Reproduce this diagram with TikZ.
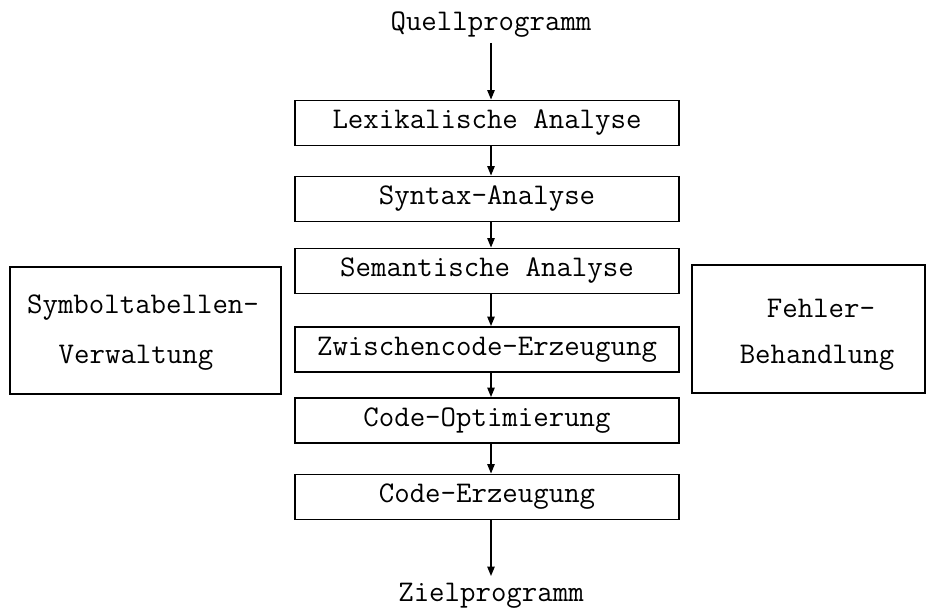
\documentclass[tikz,border=0pt]{standalone}
\usepackage{fontspec}
\usetikzlibrary{arrows.meta}
\begin{document}
\begin{tikzpicture}[x=0.75pt,y=-0.75pt,
  phase/.style={draw, line width=1.2pt, minimum width=288pt, minimum height=34pt, inner sep=0pt, font=\ttfamily\fontsize{22.5}{26}\selectfont},
  side/.style={draw, line width=1.2pt, inner sep=0pt},
  lbl/.style={font=\ttfamily\fontsize{22.5}{26}\selectfont, inner sep=0pt},
  arr/.style={line width=1pt, -{Triangle[length=7pt,width=5.5pt]}}]
\useasboundingbox (0,0) rectangle (936,610);
\node[lbl] (src) at (491,25) {Quellprogramm};
\node[phase] (p1) at (487,123) {Lexikalische Analyse};
\node[phase] (p2) at (487,199) {Syntax-Analyse};
\node[phase] (p3) at (487,271) {Semantische Analyse};
\node[phase] (p4) at (487,349.5) {Zwischencode-Erzeugung};
\node[phase] (p5) at (487,420.5) {Code-Optimierung};
\node[phase] (p6) at (487,497) {Code-Erzeugung};
\node[lbl, anchor=base] (dst) at (491,601) {Zielprogramm};
\node[side, minimum width=203pt, minimum height=95pt] (sym) at (145.5,330.5) {};
\node[lbl] (symA) at (143,308) {Symboltabellen-};
\node[lbl] (symB) at (136,358) {Verwaltung};
\node[side, minimum width=175pt, minimum height=96pt] (err) at (808.5,329) {};
\node[lbl] (errA) at (821,308) {Fehler-};
\node[lbl] (errB) at (817,358) {Behandlung};
\coordinate (s0) at (491,43);
\draw[arr] (s0) -- ([xshift=3pt]p1.north);
\draw[arr] ([xshift=3pt]p1.south) -- ([xshift=3pt]p2.north);
\draw[arr] ([xshift=3pt]p2.south) -- ([xshift=3pt]p3.north);
\draw[arr] ([xshift=3pt]p3.south) -- ([xshift=3pt]p4.north);
\draw[arr] ([xshift=3pt]p4.south) -- ([xshift=3pt]p5.north);
\draw[arr] ([xshift=3pt]p5.south) -- ([xshift=3pt]p6.north);
\coordinate (e0) at (491,576);
\draw[arr] ([xshift=3pt]p6.south) -- (e0);
\end{tikzpicture}
\end{document}
